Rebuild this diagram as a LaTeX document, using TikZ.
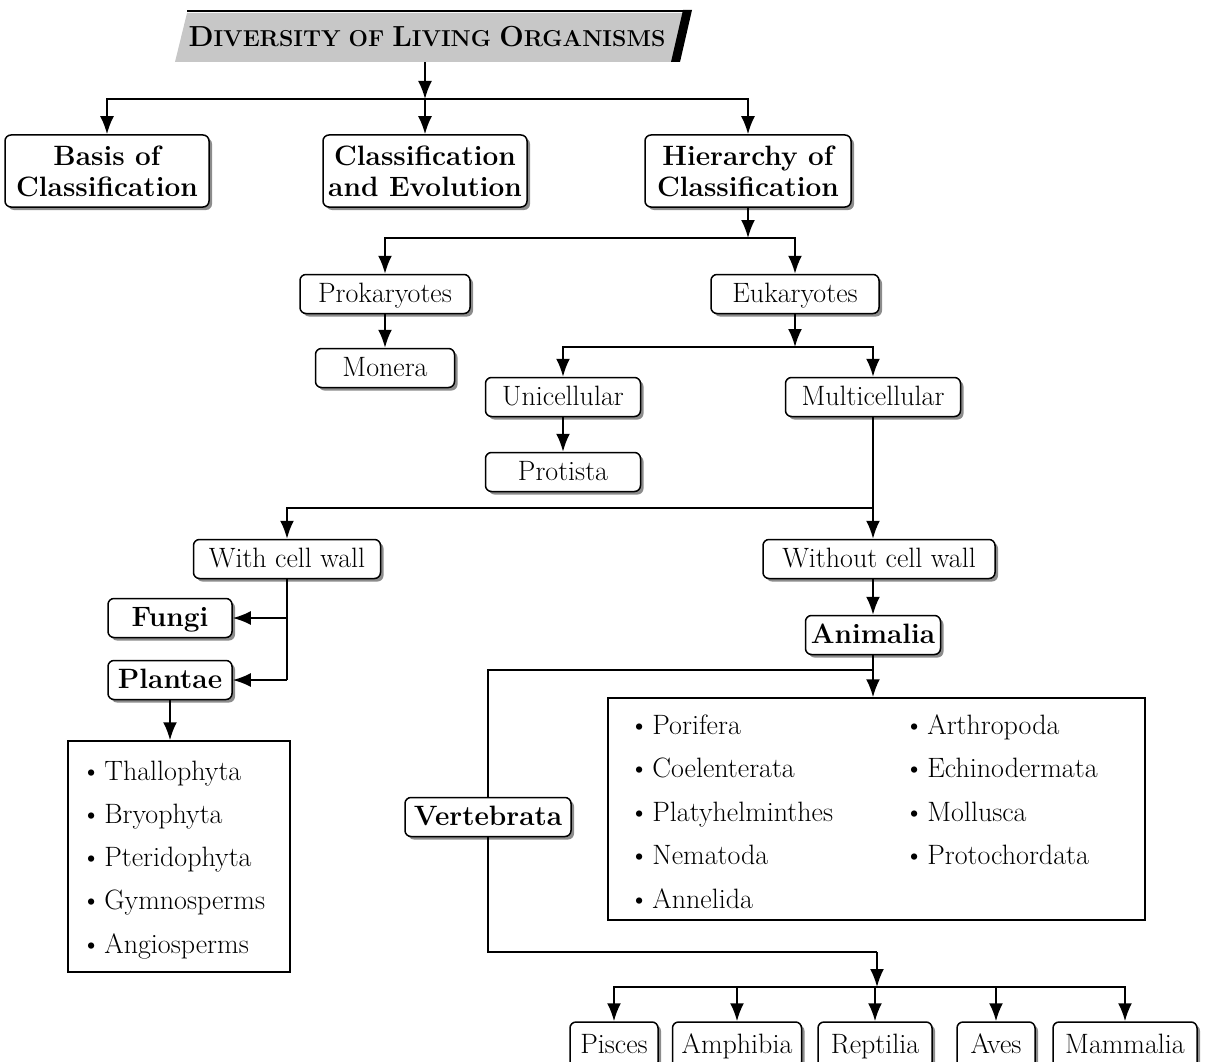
\documentclass[tikz,border=0pt]{standalone}
\usepackage{fontspec}
\usetikzlibrary{arrows.meta, shadows}

\newcommand{\fakesc}[2]{{\fontsize{29}{30}\selectfont #1}{\fontsize{23}{24}\selectfont #2}}

\begin{document}
\begin{tikzpicture}[x=1pt, y=-1pt,
  box/.style={draw, line width=1.5pt, rounded corners=6pt, fill=white,
    drop shadow={shadow xshift=3pt, shadow yshift=-3pt, fill=black!45, opacity=1},
    inner sep=0pt, minimum height=39pt, text height=20pt, text depth=3pt,
    font=\fontsize{28}{31}\selectfont},
  bbox/.style={box, font=\fontsize{28}{31}\selectfont\bfseries},
  tbox/.style={box, text height=, text depth=, align=center, minimum height=72pt,
    font=\fontsize{28}{31}\selectfont\bfseries},
  listbox/.style={draw, line width=1.5pt, fill=white},
  item/.style={anchor=base west, inner sep=0pt, font=\fontsize{28}{31}\selectfont},
  arr/.style={line width=2pt, -{Latex[length=18pt, width=14pt]}},
  ln/.style={line width=2pt}]
  \useasboundingbox (0,0) rectangle (1207,1062);

  % Title banner
  \fill[black!22] (187,13) -- (686,13) -- (675,62) -- (175,62) -- cycle;
  \draw[line width=2.4pt] (187,11) -- (688,11);
  \fill (683,10) -- (692,10) -- (680,62) -- (671,62) -- cycle;
  \node[inner sep=0pt, minimum height=50pt] (title) at (427,37)
    {\bfseries\fakesc{D}{IVERSITY}\hspace{8pt}\fakesc{}{OF}\hspace{8pt}\fakesc{L}{IVING}\hspace{8pt}\fakesc{O}{RGANISMS}};

  % First level
  \node[tbox, minimum width=204pt] (basis) at (107,171) {Basis of\\Classification};
  \node[tbox, minimum width=204pt] (classevo) at (425,171) {Classification\\and Evolution};
  \node[tbox, minimum width=206pt] (hier) at (748,171) {Hierarchy of\\Classification};

  \coordinate (j1) at (425,99);
  \draw[arr] (title.south -| j1) -- (j1);
  \draw[arr] (j1) -| (basis);
  \draw[arr] (j1) -- (classevo);
  \draw[arr] (j1) -| (hier);

  % Prokaryotes and Eukaryotes
  \node[box, minimum width=170pt] (prok) at (385,294) {Prokaryotes};
  \node[box, minimum width=139pt] (monera) at (385,368) {Monera};
  \node[box, minimum width=168pt] (euk) at (795,294) {Eukaryotes};

  \coordinate (j2) at (748,238);
  \draw[arr] (hier) -- (j2);
  \draw[arr] (j2) -| (prok);
  \draw[arr] (j2) -| (euk);
  \draw[arr] (prok) -- (monera);

  % Unicellular and Multicellular
  \node[box, minimum width=155pt] (unicell) at (563,397) {Unicellular};
  \node[box, minimum width=155pt] (protista) at (563,472) {Protista};
  \node[box, minimum width=175pt] (multicell) at (873,397) {Multicellular};

  \coordinate (j3) at (795,347);
  \draw[arr] (euk) -- (j3);
  \draw[arr] (j3) -| (unicell);
  \draw[arr] (j3) -| (multicell);
  \draw[arr] (unicell) -- (protista);

  % Cell wall
  \node[box, minimum width=187pt] (withwall) at (287,559) {With cell wall};
  \node[box, minimum width=232pt] (withoutwall) at (879,559) {Without cell wall};

  \coordinate (j4) at (873,508);
  \draw[ln] (multicell) -- (j4);
  \draw[arr] (j4) -| (withwall);
  \draw[arr] (j4) -- (withoutwall.north -| j4);

  % Plant side
  \node[bbox, minimum width=124pt] (fungi) at (170,618) {Fungi};
  \node[bbox, minimum width=124pt] (plantae) at (170,680) {Plantae};
  \draw[ln] (withwall.south) -- (withwall.south |- plantae);
  \draw[arr] (withwall.south |- fungi) -- (fungi);
  \draw[arr] (withwall.south |- plantae) -- (plantae);

  \node[listbox, minimum width=222pt, minimum height=231pt] (plantlist) at (179,856.5) {};
  \draw[arr] (plantae.south) -- (plantae.south |- plantlist.north);
  \foreach \t [count=\i from 0] in {Thallophyta, Bryophyta, Pteridophyta, Gymnosperms, Angiosperms}
    \node[item] (pl\i) at (81,780+43.3*\i) {\textbullet\hspace{3pt}\t};

  % Animal side
  \node[bbox, minimum width=135pt] (animalia) at (873,635) {Animalia};
  \draw[arr] (withoutwall.south -| animalia) -- (animalia);

  \node[listbox, minimum width=537pt, minimum height=222pt] (anlist) at (876.5,809) {};
  \node[bbox, minimum width=166pt] (vertebrata) at (488,817) {Vertebrata};

  \coordinate (j6) at (873,670);
  \draw[ln] (animalia) -- (j6);
  \draw[arr] (j6) -- (j6 |- anlist.north);
  \draw[ln] (j6) -| (vertebrata);

  \foreach \t [count=\i from 0] in {Porifera, Coelenterata, Platyhelminthes, Nematoda, Annelida}
    \node[item] (al\i) at (629,734+43.5*\i) {\textbullet\hspace{3pt}\t};
  \foreach \t [count=\i from 0] in {Arthropoda, Echinodermata, Mollusca, Protochordata}
    \node[item] (ar\i) at (904,734+43.5*\i) {\textbullet\hspace{3pt}\t};

  % Vertebrate classes
  \node[box, minimum width=88pt, minimum height=46pt] (pisces) at (614,1045) {Pisces};
  \node[box, minimum width=129pt, minimum height=46pt] (amphibia) at (737,1045) {Amphibia};
  \node[box, minimum width=114pt, minimum height=46pt] (reptilia) at (875,1045) {Reptilia};
  \node[box, minimum width=78pt, minimum height=46pt] (aves) at (996,1045) {Aves};
  \node[box, minimum width=144pt, minimum height=46pt] (mammalia) at (1125,1045) {Mammalia};

  \coordinate (j7) at (877,952);
  \coordinate (j8) at (877,987);
  \draw[ln] (vertebrata) |- (j7);
  \draw[arr] (j7) -- (j8);
  \foreach \n in {pisces, amphibia, reptilia, aves, mammalia}
    \draw[arr] (j8) -| (\n);
\end{tikzpicture}
\end{document}
